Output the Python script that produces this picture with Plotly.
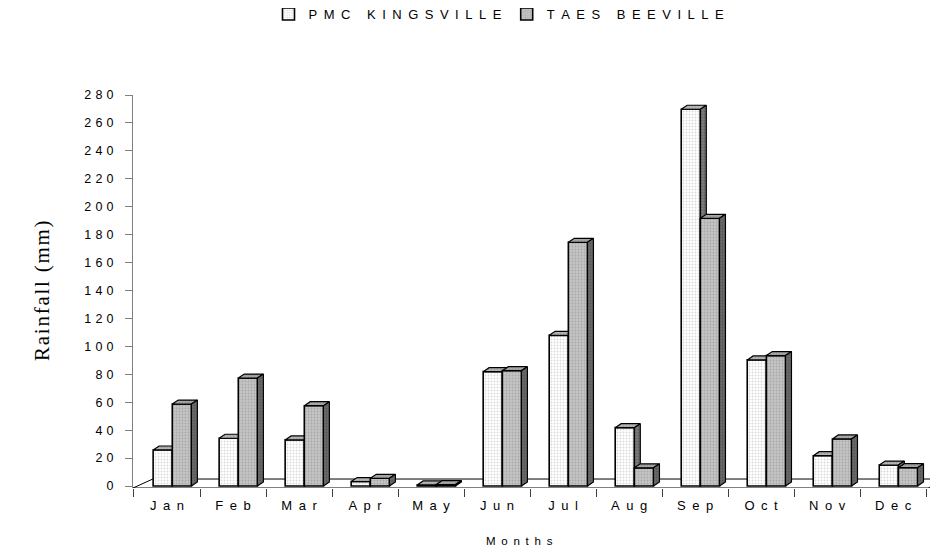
import plotly.graph_objects as go

# ---------------- data ----------------
months = ["Jan", "Feb", "Mar", "Apr", "May", "Jun", "Jul", "Aug", "Sep", "Oct", "Nov", "Dec"]
pmc_kingsville = [25.8, 34.2, 33.0, 3.2, 0.8, 81.9, 107.9, 41.8, 269.8, 90.3, 21.7, 15.0]
taes_beeville = [58.7, 77.3, 57.5, 5.5, 1.0, 82.6, 174.5, 13.0, 191.7, 93.4, 33.7, 13.1]
series_names = ["PMC KINGSVILLE", "TAES BEEVILLE"]
y_ticks = list(range(0, 281, 20))
x_title = "Months"
y_title = "Rainfall (mm)"

# ---------------- style ----------------
EN = "\u2002"   # letter spacing imitation
THIRD = "\u2004"
HAIR = "\u200a"


def spaced(s, sp=EN):
    return sp.join(list(s))


SANS = "Liberation Sans, Arial, sans-serif"
SERIF = "Liberation Serif, Times New Roman, serif"

# page body has an 8px margin: figure is placed at (8, 8)
FIG_W, FIG_H = 930, 546

BAR_W = 0.29
OFF_PMC = -0.065
OFF_TAES = 0.225
DX = 0.09      # depth shift in category units
DY = 2.86      # depth shift in value units
Y_MIN = -1.43
Y_MAX = 280
X_MIN = -0.515
X_MAX = 11.68
FLOOR_BACK = 5.0
FLOOR_DX = 0.30

cats = list(range(len(months)))


def faces(centers, vals):
    tx, ty, sx, sy = [], [], [], []
    for c, v in zip(centers, vals):
        x0, x1 = c - BAR_W / 2, c + BAR_W / 2
        tx += [x0, x1, x1 + DX, x0 + DX, x0, None]
        ty += [v, v, v + DY, v + DY, v, None]
        sx += [x1, x1 + DX, x1 + DX, x1, x1, None]
        sy += [0, DY, v + DY, v, 0, None]
    return tx, ty, sx, sy


fig = go.Figure()

series = [
    (series_names[0], pmc_kingsville, OFF_PMC, "white", "#b4b4b4", "#b8b8b8", "#7a7a7a", "x", "y"),
    (series_names[1], taes_beeville, OFF_TAES, "#c4c4c4", "#8c8c8c", "#a8a8a8", "#6a6a6a", "x2", "y2"),
]

for name, vals, off, bg, fg, topc, sidec, xa, ya in series:
    centers = [c + off for c in cats]
    fig.add_trace(go.Bar(
        x=centers, y=vals, width=BAR_W, name=spaced(name),
        xaxis=xa, yaxis=ya,
        marker=dict(color=bg,
                    pattern=dict(shape=".", fgcolor=fg, bgcolor=bg, size=3, solidity=0.3),
                    line=dict(color="black", width=1.6)),
        hoverinfo="skip",
    ))
    tx, ty, sx, sy = faces(centers, vals)
    fig.add_trace(go.Scatter(
        x=tx, y=ty, mode="lines", fill="toself", fillcolor=topc,
        fillpattern=dict(shape=".", fgcolor="#808080", bgcolor=topc, size=3, solidity=0.3),
        line=dict(color="black", width=1.2), showlegend=False, hoverinfo="skip",
        xaxis=xa, yaxis=ya,
    ))
    fig.add_trace(go.Scatter(
        x=sx, y=sy, mode="lines", fill="toself", fillcolor=sidec,
        fillpattern=dict(shape=".", fgcolor="#404040", bgcolor=sidec, size=3, solidity=0.3),
        line=dict(color="black", width=1.2), showlegend=False, hoverinfo="skip",
        xaxis=xa, yaxis=ya,
    ))

# floor
fx0, fx1 = X_MIN, len(months) - 0.5 + 0.03
floor_path = (f"M {fx0},{Y_MIN} L {fx1},{Y_MIN} L {fx1 + FLOOR_DX},{FLOOR_BACK} "
              f"L {fx0 + FLOOR_DX},{FLOOR_BACK} Z")
fig.add_shape(type="path", path=floor_path, xref="x", yref="y", layer="below",
              line=dict(color="black", width=1), fillcolor="white")

fig.update_layout(
    width=FIG_W, height=FIG_H,
    margin=dict(l=125, r=0, t=87, b=66, autoexpand=False),
    paper_bgcolor="white", plot_bgcolor="white",
    barmode="overlay",
    showlegend=True,
    legend=dict(orientation="h", xref="container", yref="container",
                x=491 / FIG_W, xanchor="center", y=1 - 6 / FIG_H, yanchor="middle",
                font=dict(family=SANS, size=13, color="black"),
                itemwidth=30, bgcolor="rgba(0,0,0,0)", traceorder="normal"),
    font=dict(family=SANS, size=13, color="black"),
    xaxis=dict(range=[X_MIN, X_MAX], tickvals=cats, ticktext=[spaced(m) for m in months],
               ticks="", showgrid=False, zeroline=False, showline=False,
               ticklabelstandoff=8,
               minor=dict(tick0=-0.5, dtick=1, ticks="outside", ticklen=8,
                          tickcolor="#404040", tickwidth=1, showgrid=False),
               tickfont=dict(family=SANS, size=13, color="black")),
    yaxis=dict(range=[Y_MIN, Y_MAX], tickvals=y_ticks,
               ticktext=[spaced(str(t), THIRD) for t in y_ticks],
               ticks="outside", ticklen=7, tickcolor="#808080", tickwidth=1,
               showline=True, linecolor="#808080", linewidth=1,
               showgrid=False, zeroline=False, ticklabelstandoff=9,
               tickfont=dict(family=SANS, size=12.5, color="black")),
    xaxis2=dict(range=[X_MIN, X_MAX], overlaying="x", visible=False),
    yaxis2=dict(range=[Y_MIN, Y_MAX], overlaying="y", visible=False),
    annotations=[
        dict(text=spaced(x_title), xref="x", yref="paper", x=5.34, y=-53 / 393,
             xanchor="center", yanchor="middle", showarrow=False,
             font=dict(family=SANS, size=11.5, color="black")),
        dict(text=spaced(y_title, HAIR), xref="paper", yref="paper", x=(42 - 133) / 805,
             y=(486 - 289) / 393, xanchor="center", yanchor="middle", textangle=-90,
             showarrow=False, font=dict(family=SERIF, size=21, color="black")),
    ],
)

fig.write_html("out.html")
